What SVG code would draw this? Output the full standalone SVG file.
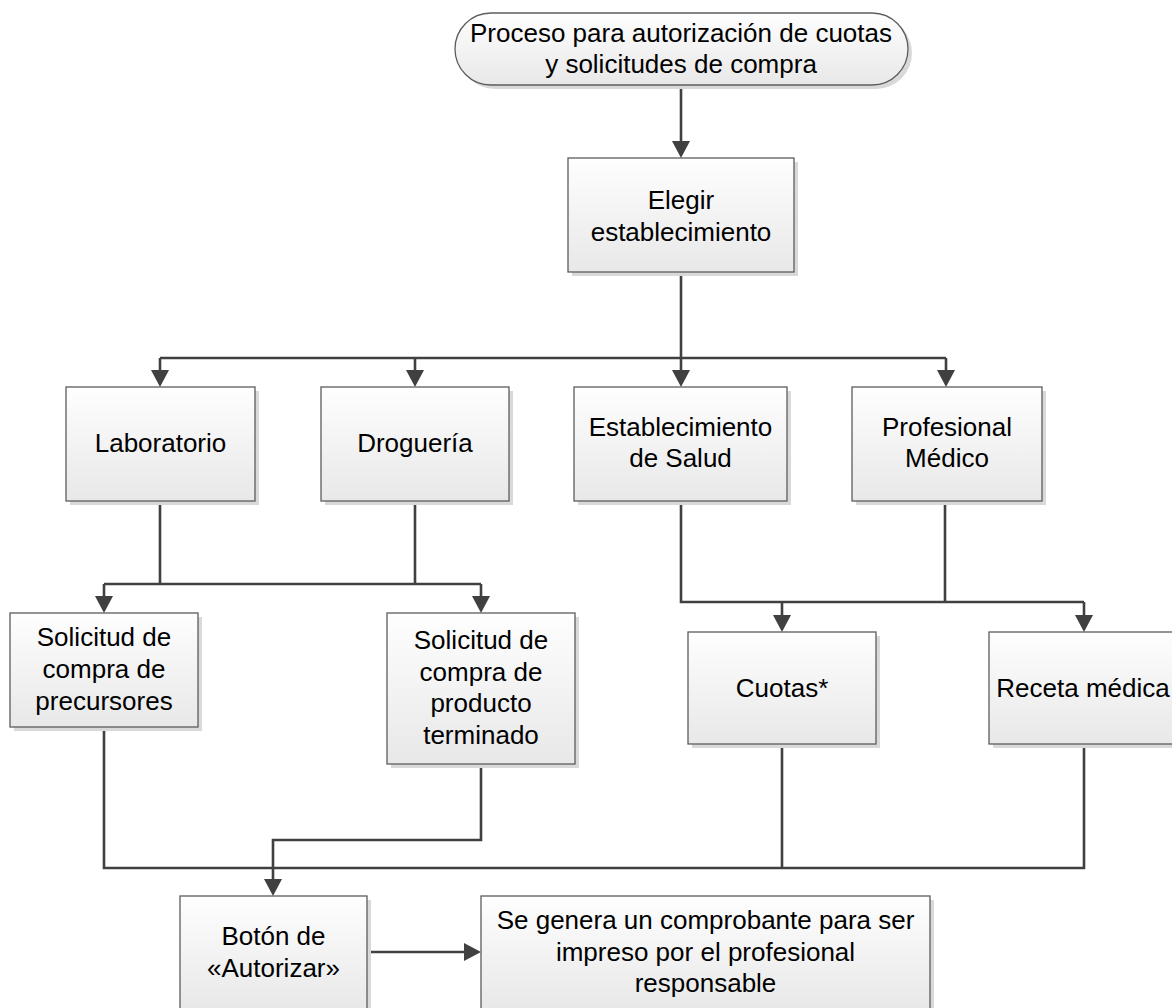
<svg xmlns="http://www.w3.org/2000/svg" width="1172" height="1008" viewBox="0 0 1172 1008">
<defs>
<linearGradient id="g" x1="0" y1="0" x2="0" y2="1">
<stop offset="0" stop-color="#fefefe"/>
<stop offset="1" stop-color="#e8e8e8"/>
</linearGradient>
<marker id="ah" viewBox="0 0 17 18" refX="12" refY="9" markerWidth="17" markerHeight="18" markerUnits="userSpaceOnUse" orient="auto">
<path d="M0,0 L17,9 L0,18 z" fill="#404040"/>
</marker>
<style>
.sh{fill:#d9d9d9;}
.bx{fill:url(#g);stroke:#5c5c5c;stroke-width:1.3;}
.t{font-family:"Liberation Sans",Arial,sans-serif;font-size:26px;fill:#000;text-anchor:middle;}
.c{fill:none;stroke:#404040;stroke-width:2.6;}
.a{marker-end:url(#ah);}
</style>
</defs>
<rect width="1172" height="1008" fill="#fff"/>

<g id="connectors">
<path class="c a" d="M681,85 V153"/>
<path class="c" d="M681,272 V358"/>
<path class="c" d="M160,358 H946"/>
<path class="c a" d="M160,358 V382"/>
<path class="c a" d="M415,358 V382"/>
<path class="c a" d="M681,358 V382"/>
<path class="c a" d="M946,358 V382"/>
<path class="c" d="M160,501 V584 M415,501 V584 M104,584 H481"/>
<path class="c a" d="M104,584 V608"/>
<path class="c a" d="M481,584 V608"/>
<path class="c" d="M681,501 V602 H1084 M945,501 V602"/>
<path class="c a" d="M782,602 V627"/>
<path class="c a" d="M1084,602 V627"/>
<path class="c" d="M104,727 V868 H1084 V744 M782,744 V868"/>
<path class="c a" d="M481,764 V840 H273 V891"/>
<path class="c a" d="M367,952 H476"/>
</g>

<g id="n-inicio">
<rect class="sh" x="459" y="17" width="453" height="72" rx="36"/>
<rect class="bx" x="455" y="13" width="453" height="72" rx="36"/>
<text class="t" x="681" y="42">Proceso para autorización de cuotas</text>
<text class="t" x="681" y="73">y solicitudes de compra</text>
</g>

<g id="n-elegir">
<rect class="sh" x="572" y="162" width="226" height="114"/>
<rect class="bx" x="568" y="158" width="226" height="114"/>
<text class="t" x="681" y="209">Elegir</text>
<text class="t" x="681" y="241">establecimiento</text>
</g>

<g id="n-laboratorio">
<rect class="sh" x="70" y="391" width="189" height="114"/>
<rect class="bx" x="66" y="387" width="189" height="114"/>
<text class="t" x="160.5" y="452">Laboratorio</text>
</g>

<g id="n-drogueria">
<rect class="sh" x="325" y="391" width="188" height="114"/>
<rect class="bx" x="321" y="387" width="188" height="114"/>
<text class="t" x="415" y="452">Droguería</text>
</g>

<g id="n-establecimiento">
<rect class="sh" x="578" y="391" width="213" height="114"/>
<rect class="bx" x="574" y="387" width="213" height="114"/>
<text class="t" x="680.5" y="436">Establecimiento</text>
<text class="t" x="680.5" y="467">de Salud</text>
</g>

<g id="n-profesional">
<rect class="sh" x="856" y="391" width="190" height="114"/>
<rect class="bx" x="852" y="387" width="190" height="114"/>
<text class="t" x="947" y="436">Profesional</text>
<text class="t" x="947" y="467">Médico</text>
</g>

<g id="n-sol-precursores">
<rect class="sh" x="14" y="617" width="188" height="114"/>
<rect class="bx" x="10" y="613" width="188" height="114"/>
<text class="t" x="104" y="646">Solicitud de</text>
<text class="t" x="104" y="678">compra de</text>
<text class="t" x="104" y="710">precursores</text>
</g>

<g id="n-sol-producto">
<rect class="sh" x="391" y="617" width="188" height="151"/>
<rect class="bx" x="387" y="613" width="188" height="151"/>
<text class="t" x="481" y="649">Solicitud de</text>
<text class="t" x="481" y="681">compra de</text>
<text class="t" x="481" y="712">producto</text>
<text class="t" x="481" y="744">terminado</text>
</g>

<g id="n-cuotas">
<rect class="sh" x="692" y="636" width="188" height="112"/>
<rect class="bx" x="688" y="632" width="188" height="112"/>
<text class="t" x="782" y="697">Cuotas*</text>
</g>

<g id="n-receta">
<rect class="sh" x="993" y="636" width="188" height="112"/>
<rect class="bx" x="989" y="632" width="188" height="112"/>
<text class="t" x="1083" y="697">Receta médica</text>
</g>

<g id="n-boton">
<rect class="sh" x="184" y="900" width="187" height="114"/>
<rect class="bx" x="180" y="896" width="187" height="114"/>
<text class="t" x="273.5" y="945">Botón de</text>
<text class="t" x="273.5" y="977">«Autorizar»</text>
</g>

<g id="n-comprobante">
<rect class="sh" x="485" y="900" width="449" height="114"/>
<rect class="bx" x="481" y="896" width="449" height="114"/>
<text class="t" x="705.5" y="929">Se genera un comprobante para ser</text>
<text class="t" x="705.5" y="961">impreso por el profesional</text>
<text class="t" x="705.5" y="992">responsable</text>
</g>
</svg>
